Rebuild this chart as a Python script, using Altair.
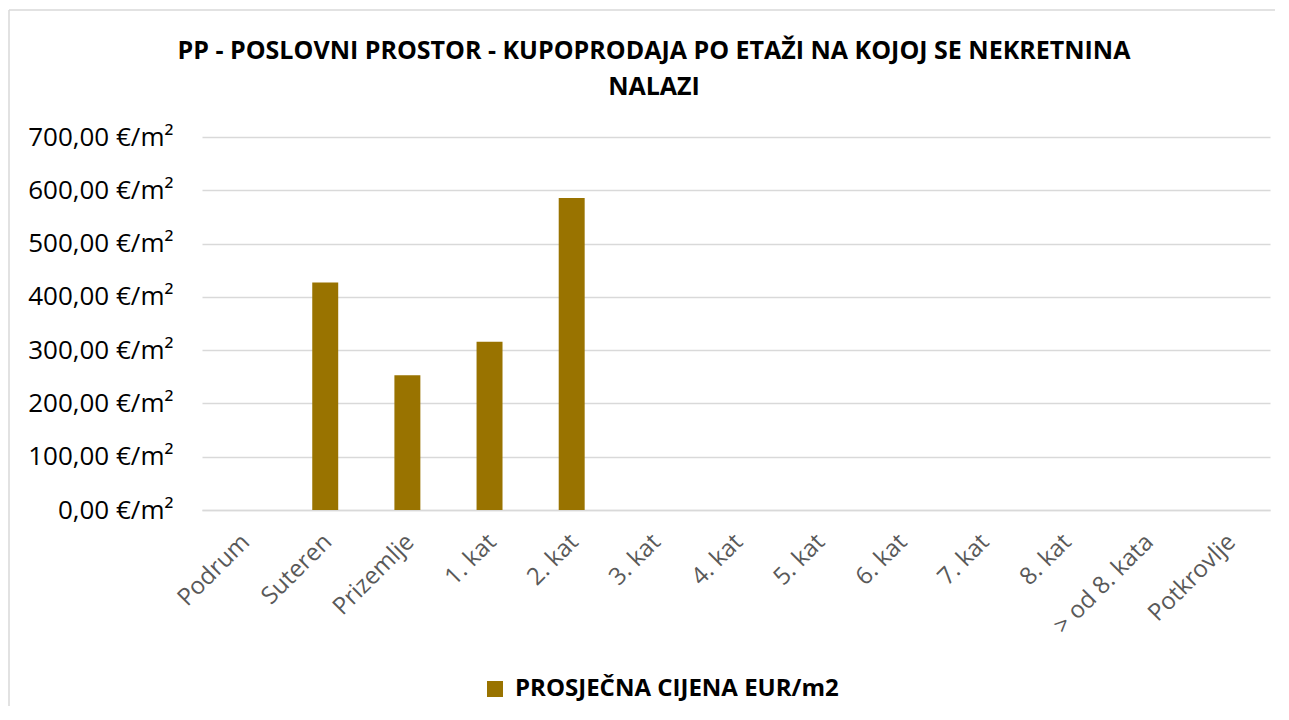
import altair as alt
import pandas as pd

categories = ["Podrum", "Suteren", "Prizemlje", "1. kat", "2. kat", "3. kat", "4. kat",
              "5. kat", "6. kat", "7. kat", "8. kat", "> od 8. kata", "Potkrovlje"]
values = [None, 427.0, 253.0, 315.6, 585.4, None, None, None, None, None, None, None, None]
series = ["PROSJEČNA CIJENA EUR/m2"] * len(categories)
y_ticks = [0, 100, 200, 300, 400, 500, 600, 700]
title_lines = ["PP - POSLOVNI PROSTOR - KUPOPRODAJA PO ETAŽI NA KOJOJ SE NEKRETNINA", "NALAZI"]

df = pd.DataFrame({"kat": categories, "cijena": values, "serija": series})

W, H = 1068, 373

bars = alt.Chart(df).mark_bar(color="#997300").encode(
    x=alt.X("kat:N", sort=categories,
            scale=alt.Scale(domain=categories, paddingInner=0.684, paddingOuter=0.342),
            axis=alt.Axis(title=None, labelAngle=-45, labelAlign="right", labelBaseline="middle",
                          labelFont="Open Sans", labelFontSize=24, labelColor="#595959",
                          labelPadding=28, labelOffset=3, ticks=False, grid=False,
                          domainColor="#d9d9d9", domainWidth=1.5)),
    y=alt.Y("cijena:Q", scale=alt.Scale(domain=[0, 700], nice=False),
            axis=alt.Axis(title=None, values=y_ticks,
                          labelExpr="replace(format(datum.value, '.2f'), '.', ',') + ' €/m²'",
                          labelFont="Open Sans", labelFontSize=26, labelColor="#000000",
                          labelPadding=29, ticks=False, domain=False,
                          gridColor="#d9d9d9", gridWidth=1.5)),
    color=alt.Color("serija:N", scale=alt.Scale(range=["#997300"]),
                    legend=alt.Legend(title=None, orient="none", legendX=281, legendY=540,
                                      symbolType="square", symbolSize=256, symbolStrokeWidth=0,
                                      labelFont="Open Sans", labelFontWeight="bold",
                                      labelFontSize=24, labelColor="#000000", labelOffset=8,
                                      labelLimit=800, padding=0)),
)

one = pd.DataFrame({"a": [0]})
border_left = alt.Chart(one).mark_rule(color="#d9d9d9", strokeWidth=1.5).encode(
    x=alt.value(-193), y=alt.value(-127), y2=alt.value(700))
border_top = alt.Chart(one).mark_rule(color="#d9d9d9", strokeWidth=1.5).encode(
    x=alt.value(-193), x2=alt.value(1200), y=alt.value(-127))

title = alt.Chart(pd.DataFrame({"t": ["\n".join(title_lines)]})).mark_text(
    font="Open Sans", fontSize=25, fontWeight="bold", color="#000000",
    lineBreak="\n", lineHeight=36, align="center", baseline="alphabetic"
).encode(text="t:N", x=alt.value(452), y=alt.value(-78))

chart = alt.layer(border_left, border_top, bars, title).properties(
    width=W, height=H,
    autosize=alt.AutoSizeParams(type="none"),
    padding={"left": 194, "top": 129, "right": 5, "bottom": 196},
).configure_view(stroke=None)

chart.save("out.html", embed_options={"renderer": "svg", "actions": False})
